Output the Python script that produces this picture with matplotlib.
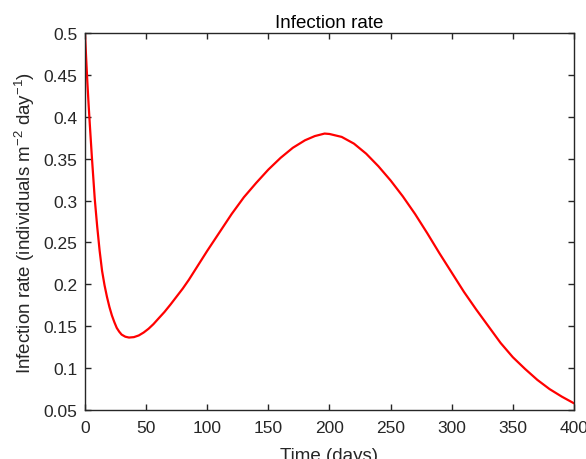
import matplotlib
matplotlib.use("Agg")
import matplotlib.pyplot as plt

# values
days = [0, 1, 2, 3, 4, 5.6, 8, 10, 12, 14, 16, 18, 20, 22, 24, 26, 28, 30, 33,
        36, 40, 44, 48, 52, 56, 60, 65, 70, 75, 80, 85, 90, 100, 110, 120, 130,
        140, 150, 160, 170, 180, 188, 196, 200, 210, 220, 230, 240, 250, 260,
        270, 280, 290, 300, 310, 320, 330, 340, 350, 360, 370, 380, 390, 400]
rate = [0.500, 0.469, 0.440, 0.414, 0.390, 0.353, 0.302, 0.269, 0.240, 0.216,
        0.199, 0.185, 0.173, 0.163, 0.155, 0.148, 0.1435, 0.140, 0.1375, 0.1365,
        0.137, 0.139, 0.1425, 0.147, 0.1525, 0.159, 0.167, 0.176, 0.1855, 0.195,
        0.2055, 0.217, 0.240, 0.262, 0.284, 0.304, 0.321, 0.337, 0.351, 0.363,
        0.372, 0.377, 0.380, 0.3795, 0.376, 0.368, 0.356, 0.341, 0.324, 0.305,
        0.284, 0.261, 0.237, 0.214, 0.191, 0.170, 0.150, 0.130, 0.113, 0.099,
        0.086, 0.075, 0.066, 0.058]

xticks = [0, 50, 100, 150, 200, 250, 300, 350, 400]
yticks = [0.05, 0.1, 0.15, 0.2, 0.25, 0.3, 0.35, 0.4, 0.45, 0.5]
yticklabels = ["0.05", "0.1", "0.15", "0.2", "0.25", "0.3", "0.35", "0.4", "0.45", "0.5"]

plt.rcParams['font.family'] = ['Liberation Sans', 'DejaVu Sans']
plt.rcParams['mathtext.fontset'] = 'custom'
plt.rcParams['mathtext.rm'] = 'Liberation Sans'
plt.rcParams['mathtext.it'] = 'Liberation Sans'
plt.rcParams['mathtext.default'] = 'regular'

dark = '#262626'
fig = plt.figure(figsize=(5.86, 4.6), dpi=100)
ax = fig.add_axes([0.145, 0.1065, 0.8345, 0.8195])

ax.plot(days, rate, color='red', lw=1.6, solid_joinstyle='round')

ax.set_xlim(0, 400)
ax.set_ylim(0.05, 0.5)
ax.set_xticks(xticks)
ax.set_yticks(yticks)
ax.set_yticklabels(yticklabels)

ax.tick_params(direction='in', top=True, right=True, length=4, width=1.0,
               colors=dark, labelsize=12.5)
ax.tick_params(axis='x', pad=7.5)
ax.tick_params(axis='y', pad=5.5)
for s in ax.spines.values():
    s.set_color(dark)
    s.set_linewidth(1.0)

ax.set_title("Infection rate", fontsize=13.5, color='black', pad=4)
ax.set_xlabel("Time (days)", fontsize=13.5, color=dark, labelpad=8)
ax.set_ylabel("Infection rate (individuals m$^{-2}$ day$^{-1}$)", fontsize=13.5,
              color=dark, labelpad=4.5)

fig.savefig("out.png", dpi=100)
